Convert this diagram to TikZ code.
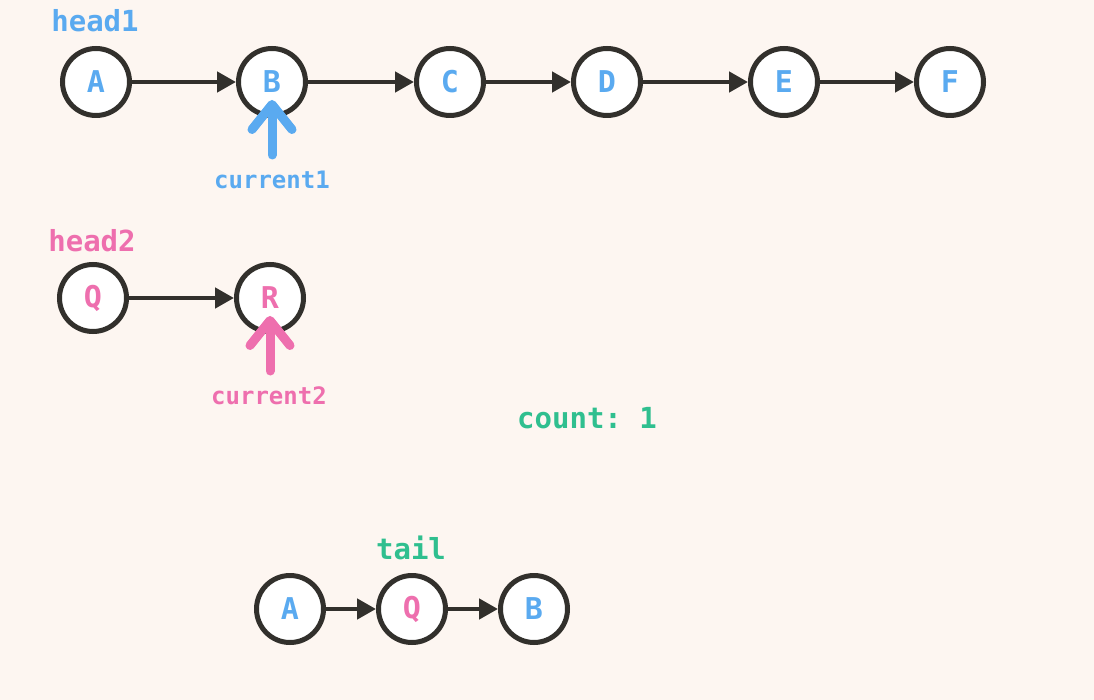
\documentclass[tikz,border=0pt]{standalone}
\usepackage{fontspec}
\setmonofont{DejaVu Sans Mono}
\usetikzlibrary{arrows.meta}
\definecolor{bgc}{HTML}{FDF6F1}
\definecolor{blu}{HTML}{5AAAF0}
\definecolor{pnk}{HTML}{EE6FAE}
\definecolor{grn}{HTML}{2FBF8F}
\definecolor{drk}{HTML}{32302C}
\tikzset{
  lnode/.style={circle, draw=drk, line width=5pt, fill=white, minimum size=67pt, inner sep=0pt, font=\ttfamily\bfseries\fontsize{30}{30}\selectfont},
  bnode/.style={lnode, text=blu},
  pnode/.style={lnode, text=pnk},
  link/.style={draw=drk, line width=4.5pt, -{Triangle[length=19pt,width=20pt]}},
  ptr/.style={line width=9pt, line cap=round, -{Straight Barb[round,length=25pt,width=40pt]}},
  lbl/.style={font=\ttfamily\bfseries\fontsize{29}{29}\selectfont},
  slbl/.style={font=\ttfamily\bfseries\fontsize{24}{24}\selectfont},
}
\begin{document}
\begin{tikzpicture}[x=1pt,y=-1pt]
\fill[bgc] (0,0) rectangle (1094,700);
\useasboundingbox (0,0) rectangle (1094,700);
% list 1
\node[lbl, text=blu] (h1) at (95,21) {head1};
\node[bnode] (a) at (96,82) {A};
\node[bnode] (b) at (272,82) {B};
\node[bnode] (c) at (450,82) {C};
\node[bnode] (d) at (607,82) {D};
\node[bnode] (e) at (784,82) {E};
\node[bnode] (f) at (950,82) {F};
\draw[link] (a) -- (b);
\draw[link] (b) -- (c);
\draw[link] (c) -- (d);
\draw[link] (d) -- (e);
\draw[link] (e) -- (f);
\coordinate (c1s) at (272,155);
\coordinate (c1e) at (272,100);
\draw[ptr, blu] (c1s) -- (c1e);
\node[slbl, text=blu] (cur1) at (272,180) {current1};
% list 2
\node[lbl, text=pnk] (h2) at (92,241) {head2};
\node[pnode] (q) at (93,298) {Q};
\node[pnode] (r) at (270,298) {R};
\draw[link] (q) -- (r);
\coordinate (c2s) at (270,371);
\coordinate (c2e) at (270,316);
\draw[ptr, pnk] (c2s) -- (c2e);
\node[slbl, text=pnk] (cur2) at (269,396) {current2};
% count
\node[lbl, text=grn] (cnt) at (587,418) {count: 1};
% result
\node[lbl, text=grn] (tl) at (411,548) {tail};
\node[bnode] (ra) at (290,609) {A};
\node[pnode] (rq) at (412,609) {Q};
\node[bnode] (rb) at (534,609) {B};
\draw[link] (ra) -- (rq);
\draw[link] (rq) -- (rb);
\end{tikzpicture}
\end{document}
